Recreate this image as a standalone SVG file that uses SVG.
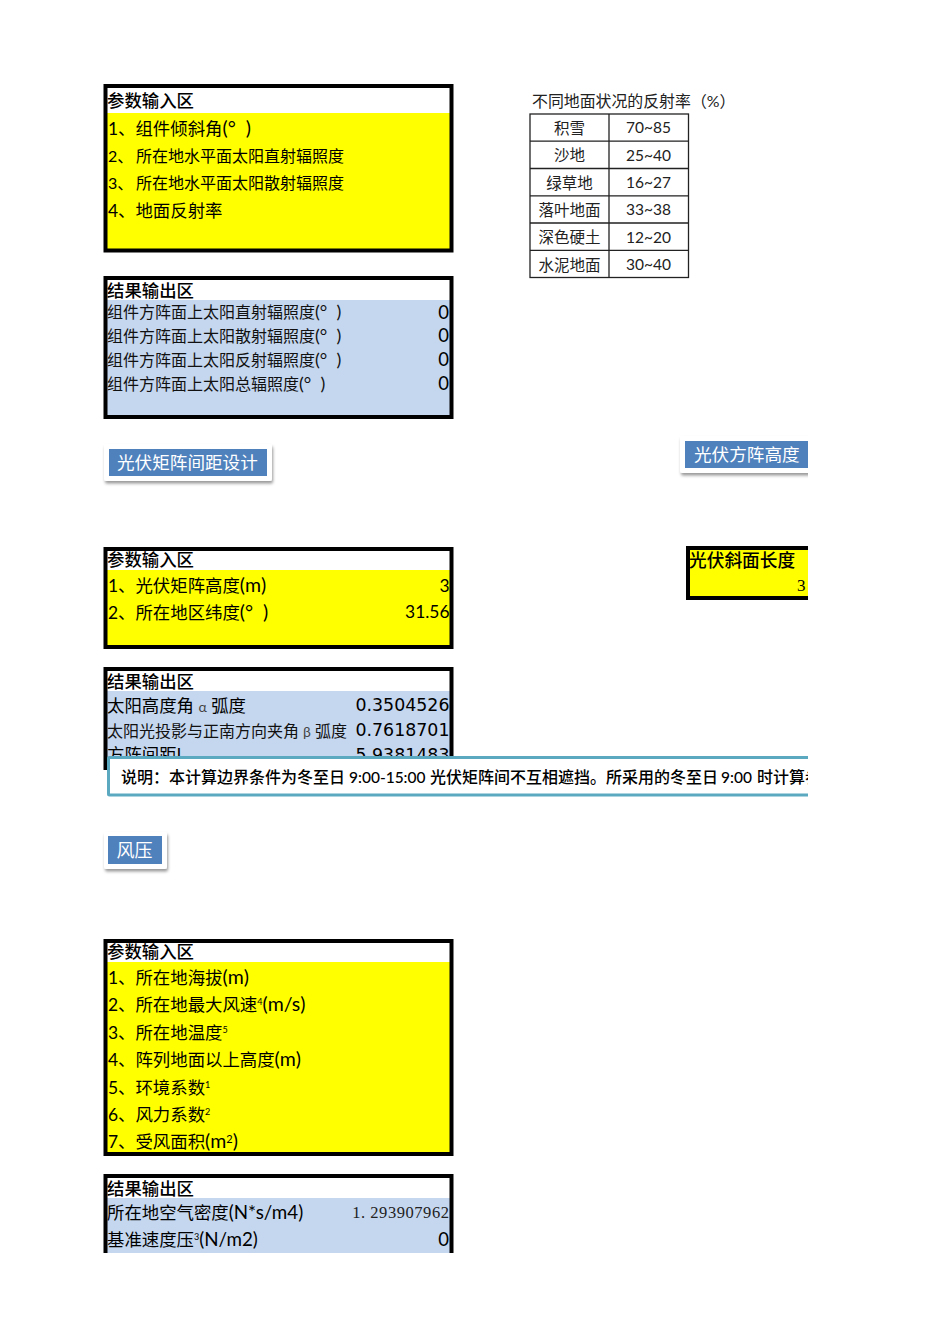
<svg xmlns="http://www.w3.org/2000/svg" width="950" height="1344" viewBox="0 0 950 1344">
<style>
text{font-family:"Lato","Noto Sans CJK SC",sans-serif;fill:#000;font-size:17.4px}
.h{font-size:17.4px;font-weight:500}
.s{font-size:16px}
.c{font-size:16px;fill:#111;}
.l{font-size:19.5px}
.m{font-size:18.8px}
.n{font-family:"DejaVu Sans","Noto Sans CJK SC",sans-serif;font-size:17.4px;text-anchor:end}
.z{font-size:18.5px;text-anchor:end}
.r{font-size:17.4px;text-anchor:end}
.t{font-size:15.5px;text-anchor:middle;fill:#222}
.b{font-size:19.5px;fill:#fff;}
.g{font-size:14px;fill:#444}
.frame{fill:none;stroke:#000;stroke-width:4}
.y{fill:#ff0}
.bl{fill:#c5d7ef}
.btn{fill:#fff;filter:url(#sh)}
.bf{fill:#4f81bd}
.grid{stroke:#222;stroke-width:1.3;fill:none}
.note{font-size:16px;font-weight:500}
</style>
<defs>
<filter id="sh" x="-20%" y="-30%" width="140%" height="170%"><feDropShadow dx="1" dy="2.5" stdDeviation="1.8" flood-color="#000" flood-opacity=".4"/></filter>
<clipPath id="page"><rect x="0" y="0" width="808" height="1344"/></clipPath>
<clipPath id="b6"><rect x="0" y="1170" width="808" height="83"/></clipPath>
</defs>
<g clip-path="url(#page)">
<g id="input-1">
<rect class="y" x="106" y="113" width="345" height="137"/>
<rect class="frame" x="105.500" y="86" width="346" height="164.500"/>
<text class="h" x="107" y="106.500">参数输入区</text>
<text x="108" y="135">1、组件倾斜角<tspan class="l">(°&#160;&#160;)</tspan></text>
<text class="s" x="108" y="161.500">2、</text><text class="s" x="136" y="161.500">所在地水平面太阳直射辐照度</text>
<text class="s" x="108" y="188.500">3、</text><text class="s" x="136" y="188.500">所在地水平面太阳散射辐照度</text>
<text x="108" y="217">4、地面反射率</text>
</g>
<g id="output-1">
<rect class="bl" x="106" y="300" width="345" height="117"/>
<rect class="frame" x="105.500" y="278" width="346" height="139"/>
<text class="h" x="107" y="297">结果输出区</text>
<text class="c" x="107" y="318">组件方阵面上太阳直射辐照度<tspan font-size="18">(°&#160;&#160;)</tspan></text>
<text class="c" x="107" y="342">组件方阵面上太阳散射辐照度<tspan font-size="18">(°&#160;&#160;)</tspan></text>
<text class="c" x="107" y="365.500">组件方阵面上太阳反射辐照度<tspan font-size="18">(°&#160;&#160;)</tspan></text>
<text class="c" x="107" y="389.500">组件方阵面上太阳总辐照度<tspan font-size="18">(°&#160;&#160;)</tspan></text>
<text class="z" x="449" y="319">0</text>
<text class="z" x="449" y="342">0</text>
<text class="z" x="449" y="366">0</text>
<text class="z" x="449" y="390">0</text>
</g>
<g id="reflect-table">
<text style="font-size:15.900px;fill:#222" x="532" y="106.500">不同地面状况的反射率（%）</text>
<rect class="grid" x="530" y="114" width="158.500" height="163.500"/>
<path class="grid" d="M609 114V277.500M530 141.200H688.500M530 168.500H688.500M530 195.800H688.500M530 223H688.500M530 250.300H688.500"/>
<text class="t" x="569.500" y="133.500">积雪</text><text class="t" x="648.500" y="133">70~85</text>
<text class="t" x="569.500" y="161">沙地</text><text class="t" x="648.500" y="160.500">25~40</text>
<text class="t" x="569.500" y="188.500">绿草地</text><text class="t" x="648.500" y="188">16~27</text>
<text class="t" x="569.500" y="215.500">落叶地面</text><text class="t" x="648.500" y="215">33~38</text>
<text class="t" x="569.500" y="243">深色硬土</text><text class="t" x="648.500" y="242.500">12~20</text>
<text class="t" x="569.500" y="270.500">水泥地面</text><text class="t" x="648.500" y="270">30~40</text>
</g>
<g id="btn-spacing">
<rect class="btn" x="104" y="444" width="168" height="37" rx="2"/>
<rect class="bf" x="109" y="449" width="158" height="27"/>
<text class="b" style="font-size:17.6px" x="117" y="468.500">光伏矩阵间距设计</text>
</g>
<g id="btn-height">
<rect class="btn" x="680" y="436" width="140" height="37" rx="2"/>
<rect class="bf" x="685" y="441" width="130" height="27"/>
<text class="b" style="font-size:17.6px" x="694" y="460.500">光伏方阵高度</text>
</g>
<g id="slope-length">
<rect class="y" x="688" y="548" width="130" height="50"/>
<rect class="frame" x="688" y="548" width="140" height="50"/>
<text class="h" style="font-size:17.7px" x="689" y="566.500">光伏斜面长度</text>
<text style="font-family:'Liberation Serif',serif;font-size:17px;text-anchor:end" x="805.500" y="591">3</text>
</g>
<g id="input-2">
<rect class="y" x="106" y="570" width="345" height="77"/>
<rect class="frame" x="105.500" y="549" width="346" height="98"/>
<text class="h" x="107" y="566">参数输入区</text>
<text x="108" y="592">1、光伏矩阵高度<tspan class="l">(m)</tspan></text>
<text x="108" y="619">2、所在地区纬度<tspan class="l">(°&#160;&#160;)</tspan></text>
<text class="r" x="449.500" y="592">3</text>
<text class="r" x="449.500" y="618">31.56</text>
</g>
<g id="output-2">
<rect class="bl" x="106" y="691" width="345" height="75"/>
<path class="frame" d="M105.500 770V669H451.500V770"/>
<text class="h" x="107" y="688">结果输出区</text>
<text x="107" y="712">太阳高度角 <tspan class="g">α</tspan> 弧度</text>
<text class="c" x="107" y="737">太阳光投影与正南方向夹角 <tspan class="g">β</tspan> 弧度</text>
<text x="107" y="761">方阵间距L</text>
<text class="n" x="449.500" y="711">0.3504526</text>
<text class="n" x="449.500" y="736">0.7618701</text>
<text class="n" x="449.500" y="761">5.9381483</text>
</g>
<g id="note">
<rect x="108.500" y="757.500" width="720" height="37.500" fill="#fff" stroke="#5aa9c1" stroke-width="3" rx="1"/>
<text class="note" x="121" y="783">说明：本计算边界条件为冬至日</text>
<text class="note" style="font-size:15.500px" x="349" y="783">9:00-15:00</text>
<text class="note" x="430" y="783">光伏矩阵间不互相遮挡。所采用的冬至日</text>
<text class="note" style="font-size:15.500px" x="721" y="783">9:00</text>
<text class="note" x="757" y="783">时计算参数</text>
</g>
<g id="btn-wind">
<rect class="btn" x="104" y="832" width="63" height="37" rx="2"/>
<rect class="bf" x="108" y="836" width="54" height="28"/>
<text class="b" style="font-size:18px" x="116.500" y="856.500">风压</text>
</g>
<g id="input-3">
<rect class="y" x="106" y="962" width="345" height="192"/>
<rect class="frame" x="105.500" y="941" width="346" height="213"/>
<text class="h" x="107" y="958">参数输入区</text>
<text x="108" y="983.500">1、所在地海拔<tspan class="l">(m)</tspan></text>
<text x="108" y="1011">2、所在地最大风速<tspan font-size="9" dy="-6">4</tspan><tspan class="l" dy="6">(m/s)</tspan></text>
<text x="108" y="1038.500">3、所在地温度<tspan font-size="9" dy="-6">5</tspan></text>
<text x="108" y="1065.500">4、阵列地面以上高度<tspan class="l">(m)</tspan></text>
<text x="108" y="1093.500">5、环境系数<tspan font-size="9" dy="-6">1</tspan></text>
<text x="108" y="1121">6、风力系数<tspan font-size="9" dy="-6">2</tspan></text>
<text x="108" y="1147.500">7、受风面积<tspan class="l">(m</tspan><tspan font-size="11" dy="-5">2</tspan><tspan class="l" dy="5">)</tspan></text>
</g>
<g id="output-3" clip-path="url(#b6)">
<rect class="bl" x="106" y="1198" width="345" height="60"/>
<path class="frame" d="M105.500 1260V1176H451.500V1260"/>
<text class="h" x="107" y="1195">结果输出区</text>
<text x="107" y="1218.500">所在地空气密度<tspan class="m">(N*s/m4)</tspan></text>
<text x="107" y="1246">基准速度压<tspan font-size="9" dy="-6">3</tspan><tspan class="m" dy="6">(N/m2)</tspan></text>
<text style="font-family:'Liberation Serif',serif;font-size:16.500px;letter-spacing:.55px;text-anchor:end;fill:#222" x="449.500" y="1218">1. 293907962</text>
<text class="z" x="449" y="1246">0</text>
</g>
</g>
</svg>
